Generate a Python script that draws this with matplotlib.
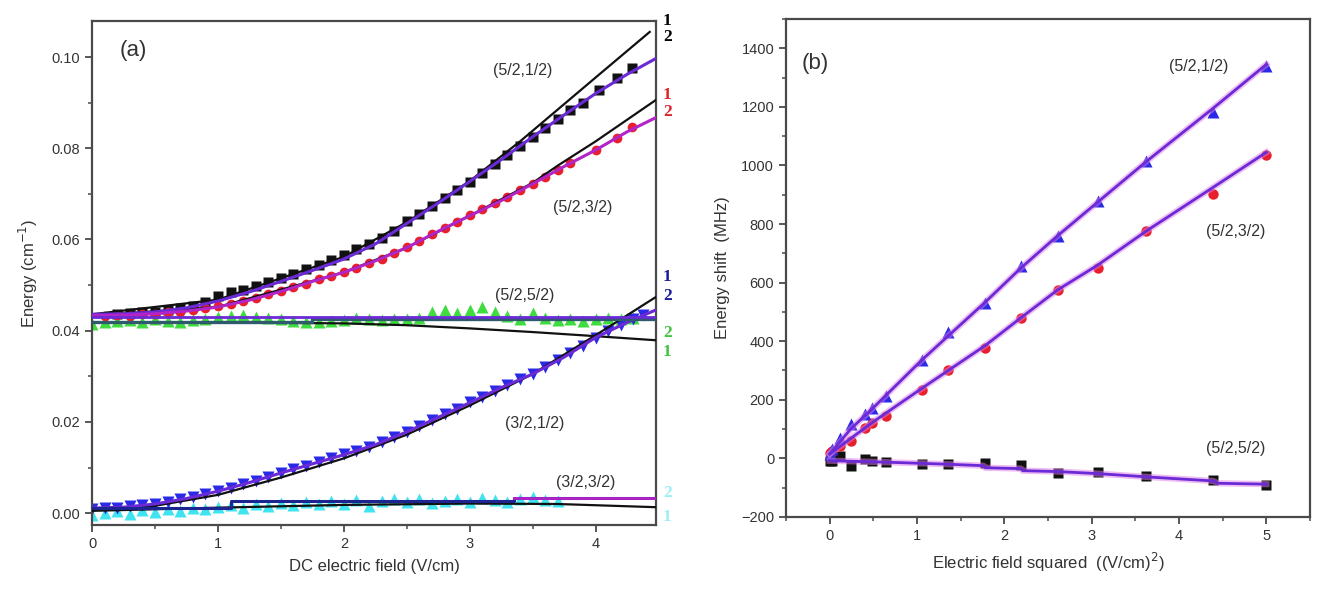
import matplotlib
matplotlib.use("Agg")
import matplotlib.pyplot as plt
from matplotlib.ticker import MultipleLocator, FormatStrFormatter

plt.rcParams['font.family'] = ['Liberation Sans', 'DejaVu Sans']

# ---------------- panel (a): energy levels vs DC field ----------------
field_521 = [0.2, 0.3, 0.4, 0.5, 0.6, 0.7, 0.8, 0.9, 1.0, 1.1, 1.2, 1.3, 1.4, 1.5,
             1.6, 1.7, 1.8, 1.9, 2.0, 2.1, 2.2, 2.3, 2.4, 2.5, 2.6, 2.7, 2.8, 2.9,
             3.0, 3.1, 3.2, 3.3, 3.4, 3.5, 3.6, 3.7, 3.8, 3.9, 4.03, 4.17, 4.29]
energy_521 = [0.0437, 0.0438, 0.0440, 0.0442, 0.0445, 0.0449, 0.0455, 0.0462, 0.0476,
              0.0484, 0.0490, 0.0498, 0.0506, 0.0516, 0.0524, 0.0536, 0.0544, 0.0555,
              0.0566, 0.0578, 0.0591, 0.0604, 0.0619, 0.0640, 0.0656, 0.0673, 0.0690,
              0.0708, 0.0726, 0.0745, 0.0766, 0.0786, 0.0806, 0.0824, 0.0845, 0.0864,
              0.0884, 0.0900, 0.0928, 0.0954, 0.0976]

field_523 = [0.1, 0.2, 0.3, 0.4, 0.5, 0.6, 0.7, 0.8, 0.9, 1.0, 1.1, 1.2, 1.3, 1.4,
             1.5, 1.6, 1.7, 1.8, 1.9, 2.0, 2.1, 2.2, 2.3, 2.4, 2.5, 2.6, 2.7, 2.8,
             2.9, 3.0, 3.1, 3.2, 3.3, 3.4, 3.5, 3.6, 3.7, 3.8, 4.0, 4.17, 4.29]
energy_523 = [0.0432, 0.0434, 0.0433, 0.0436, 0.0437, 0.0440, 0.0441, 0.0446, 0.0449,
              0.0455, 0.0459, 0.0466, 0.0471, 0.0480, 0.0487, 0.0495, 0.0503, 0.0513,
              0.0520, 0.0529, 0.0538, 0.0548, 0.0558, 0.0570, 0.0583, 0.0596, 0.0611,
              0.0625, 0.0639, 0.0653, 0.0666, 0.0680, 0.0694, 0.0708, 0.0722, 0.0738,
              0.0752, 0.0767, 0.0796, 0.0822, 0.0847]

field_525 = [0.0, 0.1, 0.2, 0.3, 0.4, 0.5, 0.6, 0.7, 0.8, 0.9, 1.0, 1.1, 1.2, 1.3,
             1.4, 1.5, 1.6, 1.7, 1.8, 1.9, 2.0, 2.1, 2.2, 2.3, 2.4, 2.5, 2.6, 2.7,
             2.8, 2.9, 3.0, 3.1, 3.2, 3.3, 3.4, 3.5, 3.6, 3.7, 3.8, 3.9, 4.0, 4.1,
             4.2, 4.3]
energy_525 = [0.0415, 0.0418, 0.0421, 0.0423, 0.0420, 0.0425, 0.0422, 0.0419, 0.0423,
              0.0426, 0.0430, 0.0432, 0.0434, 0.0430, 0.0427, 0.0426, 0.0422, 0.0420,
              0.0419, 0.0421, 0.0424, 0.0427, 0.0425, 0.0423, 0.0425, 0.0426, 0.0428,
              0.0440, 0.0445, 0.0438, 0.0446, 0.0452, 0.0442, 0.0432, 0.0426, 0.0438,
              0.0428, 0.0424, 0.0426, 0.0422, 0.0425, 0.0427, 0.0426, 0.0428]

field_321 = [0.0, 0.1, 0.2, 0.3, 0.4, 0.5, 0.6, 0.7, 0.8, 0.9, 1.0, 1.1, 1.2, 1.3,
             1.4, 1.5, 1.6, 1.7, 1.8, 1.9, 2.0, 2.1, 2.2, 2.3, 2.4, 2.5, 2.6, 2.7,
             2.8, 2.9, 3.0, 3.1, 3.2, 3.3, 3.4, 3.5, 3.6, 3.7, 3.8, 3.9, 4.0, 4.1,
             4.2, 4.3, 4.38]
energy_321 = [0.0010, 0.0012, 0.0012, 0.0015, 0.0017, 0.0021, 0.0025, 0.0030, 0.0036,
              0.0042, 0.0049, 0.0056, 0.0063, 0.0071, 0.0079, 0.0089, 0.0096, 0.0104,
              0.0112, 0.0120, 0.0129, 0.0137, 0.0146, 0.0155, 0.0166, 0.0178, 0.0191,
              0.0204, 0.0217, 0.0229, 0.0243, 0.0254, 0.0268, 0.0280, 0.0293, 0.0306,
              0.0320, 0.0335, 0.0350, 0.0366, 0.0384, 0.0399, 0.0412, 0.0425, 0.0434]

field_323 = [0.0, 0.1, 0.2, 0.3, 0.4, 0.5, 0.6, 0.7, 0.8, 0.9, 1.0, 1.1, 1.2, 1.3,
             1.4, 1.5, 1.6, 1.7, 1.8, 1.9, 2.0, 2.1, 2.2, 2.3, 2.4, 2.5, 2.6, 2.7,
             2.8, 2.9, 3.0, 3.1, 3.2, 3.3, 3.4, 3.5, 3.6, 3.7]
energy_323 = [-0.0005, 0.0000, 0.0004, -0.0002, 0.0006, 0.0003, 0.0010, 0.0004, 0.0012,
              0.0008, 0.0013, 0.0018, 0.0011, 0.0020, 0.0016, 0.0022, 0.0018, 0.0025,
              0.0019, 0.0026, 0.0021, 0.0028, 0.0015, 0.0027, 0.0032, 0.0024, 0.0030,
              0.0022, 0.0027, 0.0031, 0.0025, 0.0033, 0.0028, 0.0024, 0.0030, 0.0036,
              0.0029, 0.0027]

# fitted curves (coloured) on a common field grid
fit_field = [0.0, 0.25, 0.5, 0.75, 1.0, 1.25, 1.5, 1.75, 2.0, 2.25, 2.5, 2.75, 3.0,
             3.25, 3.5, 3.75, 4.0, 4.25, 4.5]
fit_521 = [0.0436, 0.0437, 0.0441, 0.0450, 0.0465, 0.0485, 0.0508, 0.0532, 0.0557,
           0.0590, 0.0635, 0.0680, 0.0727, 0.0775, 0.0825, 0.0873, 0.0920, 0.0962, 0.1000]
fit_523 = [0.0433, 0.0434, 0.0437, 0.0443, 0.0452, 0.0467, 0.0486, 0.0508, 0.0528,
           0.0553, 0.0582, 0.0618, 0.0652, 0.0685, 0.0722, 0.0760, 0.0796, 0.0836, 0.0870]
fit_321 = [0.0011, 0.0013, 0.0020, 0.0032, 0.0048, 0.0067, 0.0088, 0.0108, 0.0128,
           0.0150, 0.0178, 0.0210, 0.0242, 0.0275, 0.0305, 0.0342, 0.0385, 0.0418, 0.0448]

# step-like fits of the flat levels
fit525_field = [0.0, 1.75, 1.75, 4.5]
fit525_low = [0.0419, 0.0419, 0.0426, 0.0426]
fit525_high = [0.0429, 0.0429, 0.0429, 0.0429]
fit323_field = [0.0, 1.1, 1.1, 3.35, 3.35, 4.5]
fit323_vals = [0.0012, 0.0012, 0.0026, 0.0026, 0.0033, 0.0033]
fit323b_field = [3.35, 4.5]
fit323b_vals = [0.0034, 0.0034]

# theoretical curves (black)
th521_field = [0.0, 1.0, 2.0, 2.5, 3.0, 3.4, 4.0, 4.43]
th521_vals = [0.0436, 0.0468, 0.0562, 0.0638, 0.0728, 0.0815, 0.0955, 0.1055]
th523_field = [0.0, 1.0, 2.0, 2.5, 3.0, 3.5, 3.7, 4.0, 4.48]
th523_vals = [0.0433, 0.0452, 0.0528, 0.0582, 0.0652, 0.0724, 0.0762, 0.0815, 0.0906]
th525_field = [0.0, 1.0, 2.0, 2.5, 3.0, 3.5, 4.0, 4.48]
th525_vals = [0.0418, 0.0418, 0.0416, 0.0412, 0.0405, 0.0397, 0.0388, 0.0379]
th321_field = [0.0, 0.5, 1.0, 1.5, 2.0, 2.5, 3.0, 3.5, 4.0, 4.48]
th321_vals = [0.0008, 0.0016, 0.0040, 0.0078, 0.0120, 0.0172, 0.0236, 0.0305, 0.0390, 0.0474]
th323_field = [0.0, 1.0, 2.0, 3.0, 3.7, 4.48]
th323_vals = [0.0005, 0.0012, 0.0018, 0.0021, 0.0020, 0.0013]

# level names and their label positions
level_labels = ['(5/2,1/2)', '(5/2,3/2)', '(5/2,5/2)', '(3/2,1/2)', '(3/2,3/2)']
level_label_x = [3.42, 3.90, 3.44, 3.52, 3.92]
level_label_y = [0.0971, 0.0671, 0.0478, 0.0197, 0.0068]

# branch indices at the right edge
branch_text = ['1', '2', '1', '2', '1', '2', '2', '1', '2', '1']
branch_y = [0.1080, 0.1043, 0.0917, 0.0879, 0.0518, 0.0476, 0.0395, 0.0353, 0.0044, -0.0008]
branch_colors = ['#000000', '#000000', '#e0202a', '#e0202a', '#1a1a9a', '#1a1a9a',
                 '#3ec43e', '#3ec43e', '#9ceef6', '#9ceef6']

# ---------------- panel (b): shift vs field squared ----------------
field_sq = [0.0, 0.03, 0.12, 0.24, 0.40, 0.49, 0.65, 1.06, 1.36, 1.78, 2.19, 2.61,
            3.07, 3.62, 4.39, 5.0]
shift_521 = [14, 31, 69, 116, 150, 172, 212, 337, 433, 530, 655, 758, 877, 1014, 1184, 1338]
shift_523 = [17, 24, 41, 58, 103, 120, 143, 235, 303, 376, 479, 576, 650, 775, 901, 1034]
shift_525 = [-10, -8, 7, -27, -3, -10, -14, -20, -20, -17, -24, -50, -47, -61, -73, -92]

fitb_521_x = [0.0, 0.24, 0.49, 1.06, 1.78, 2.19, 2.61, 3.07, 3.62, 4.39, 5.0]
fitb_521_y = [15, 100, 170, 337, 533, 650, 760, 875, 1012, 1195, 1345]
fitb_523_x = [0.0, 0.5, 1.06, 1.78, 2.19, 2.61, 3.07, 3.62, 4.39, 5.0]
fitb_523_y = [15, 125, 240, 385, 480, 575, 660, 775, 925, 1045]
fitb_525_x = [0.0, 0.65, 1.36, 1.76, 1.78, 2.19, 2.21, 2.61, 3.07, 3.62, 4.0, 4.39, 4.45, 5.0]
fitb_525_y = [-8, -13, -20, -25, -32, -35, -42, -45, -52, -63, -70, -77, -85, -88]

b_labels = ['(5/2,1/2)', '(5/2,3/2)', '(5/2,5/2)']
b_label_x = [4.22, 4.65, 4.65]
b_label_y = [1338, 775, 34]

# ---------------- drawing ----------------
VIOLET = '#6a2ad6'
MAGENTA = '#b224c8'
NAVY = '#1c2590'
TEAL = '#2f5a6c'
SPINE = '#4a4a4a'

fig = plt.figure(figsize=(13.17, 5.98), dpi=100)
axa = fig.add_axes([0.0699, 0.1221, 0.4282, 0.8428])
axb = fig.add_axes([0.5968, 0.1355, 0.3979, 0.8328])

# measured levels
axa.plot(field_525, energy_525, '^', color='#3fdc3f', ms=8, mec='none', zorder=2)
axa.plot(field_323, energy_323, '^', color='#3fe4f0', ms=8, mec='none', zorder=2)
axa.plot(field_521, energy_521, 's', color='#111111', ms=7, mec='none', zorder=2)
axa.plot(field_523, energy_523, 'o', color='#e8202c', ms=7, mec='none', zorder=2)
axa.plot(field_321, energy_321, 'v', color='#2a2ae6', ms=8.5, mec='none', zorder=2)

# theory
for fx, fy in [(th521_field, th521_vals), (th523_field, th523_vals),
               (th525_field, th525_vals), (th321_field, th321_vals),
               (th323_field, th323_vals)]:
    axa.plot(fx, fy, color='#111111', lw=1.6, zorder=4)

# fits
axa.plot(fit_field, fit_521, color=VIOLET, lw=2.2, zorder=5)
axa.plot(fit_field, fit_523, color=MAGENTA, lw=2.2, zorder=5)
axa.plot(fit_field, fit_321, color=VIOLET, lw=2.2, zorder=5)
axa.plot(fit525_field, fit525_low, color=TEAL, lw=2.4, zorder=5)
axa.plot(fit525_field, fit525_high, color=VIOLET, lw=2.0, zorder=5)
axa.plot(fit323_field, fit323_vals, color=NAVY, lw=2.2, zorder=5)
axa.plot(fit323b_field, fit323b_vals, color=MAGENTA, lw=2.0, zorder=5)

for txt, x, y in zip(level_labels, level_label_x, level_label_y):
    axa.text(x, y, txt, fontsize=11.5, ha='center', va='center', color='#333333', zorder=6)
axa.text(0.33, 0.1015, '(a)', fontsize=16, ha='center', va='center', color='#333333')

for txt, y, c in zip(branch_text, branch_y, branch_colors):
    axa.text(4.57, y, txt, fontsize=12.5, fontweight='bold', ha='center', va='center',
             color=c, family='Liberation Serif', clip_on=False)

axa.set_xlim(0, 4.48)
axa.set_ylim(-0.0026, 0.1079)
axa.xaxis.set_major_locator(MultipleLocator(1))
axa.xaxis.set_minor_locator(MultipleLocator(0.5))
axa.yaxis.set_major_locator(MultipleLocator(0.02))
axa.yaxis.set_minor_locator(MultipleLocator(0.01))
axa.yaxis.set_major_formatter(FormatStrFormatter('%.2f'))
axa.set_xlabel('DC electric field (V/cm)', fontsize=12, color='#333333', labelpad=6)
axa.set_ylabel('Energy (cm$^{-1}$)', fontsize=12, color='#333333', labelpad=8)

# panel (b)
for fx, fy in [(fitb_521_x, fitb_521_y), (fitb_523_x, fitb_523_y), (fitb_525_x, fitb_525_y)]:
    axb.plot(fx, fy, color='#e07ae8', lw=4.5, alpha=0.5, zorder=3)
axb.plot(field_sq, shift_525, 's', color='#111111', ms=7.5, mec='none', zorder=2)
axb.plot(field_sq, shift_523, 'o', color='#e8202c', ms=7.5, mec='none', zorder=2)
axb.plot(field_sq, shift_521, '^', color='#2a2ae6', ms=8, mec='none', zorder=2)
for fx, fy in [(fitb_521_x, fitb_521_y), (fitb_523_x, fitb_523_y), (fitb_525_x, fitb_525_y)]:
    axb.plot(fx, fy, color=VIOLET, lw=2.0, zorder=4)

for txt, x, y in zip(b_labels, b_label_x, b_label_y):
    axb.text(x, y, txt, fontsize=11.5, ha='center', va='center', color='#333333')
axb.text(-0.16, 1348, '(b)', fontsize=16, ha='center', va='center', color='#333333')

axb.set_xlim(-0.5, 5.5)
axb.set_ylim(-200, 1500)
axb.xaxis.set_major_locator(MultipleLocator(1))
axb.xaxis.set_minor_locator(MultipleLocator(0.5))
axb.yaxis.set_major_locator(MultipleLocator(200))
axb.yaxis.set_minor_locator(MultipleLocator(100))
axb.set_xlabel('Electric field squared  ((V/cm)$^2$)', fontsize=12, color='#333333', labelpad=6)
axb.set_ylabel('Energy shift  (MHz)', fontsize=12, color='#333333', labelpad=8)

for ax in (axa, axb):
    for s in ax.spines.values():
        s.set_color(SPINE)
        s.set_linewidth(1.6)
    ax.tick_params(which='major', direction='out', length=5, width=1.3, colors=SPINE,
                   labelsize=10.5, labelcolor='#333333')
    ax.tick_params(which='minor', direction='out', length=3, width=1.1, colors=SPINE)

fig.savefig('out.png', dpi=100, facecolor='white')
